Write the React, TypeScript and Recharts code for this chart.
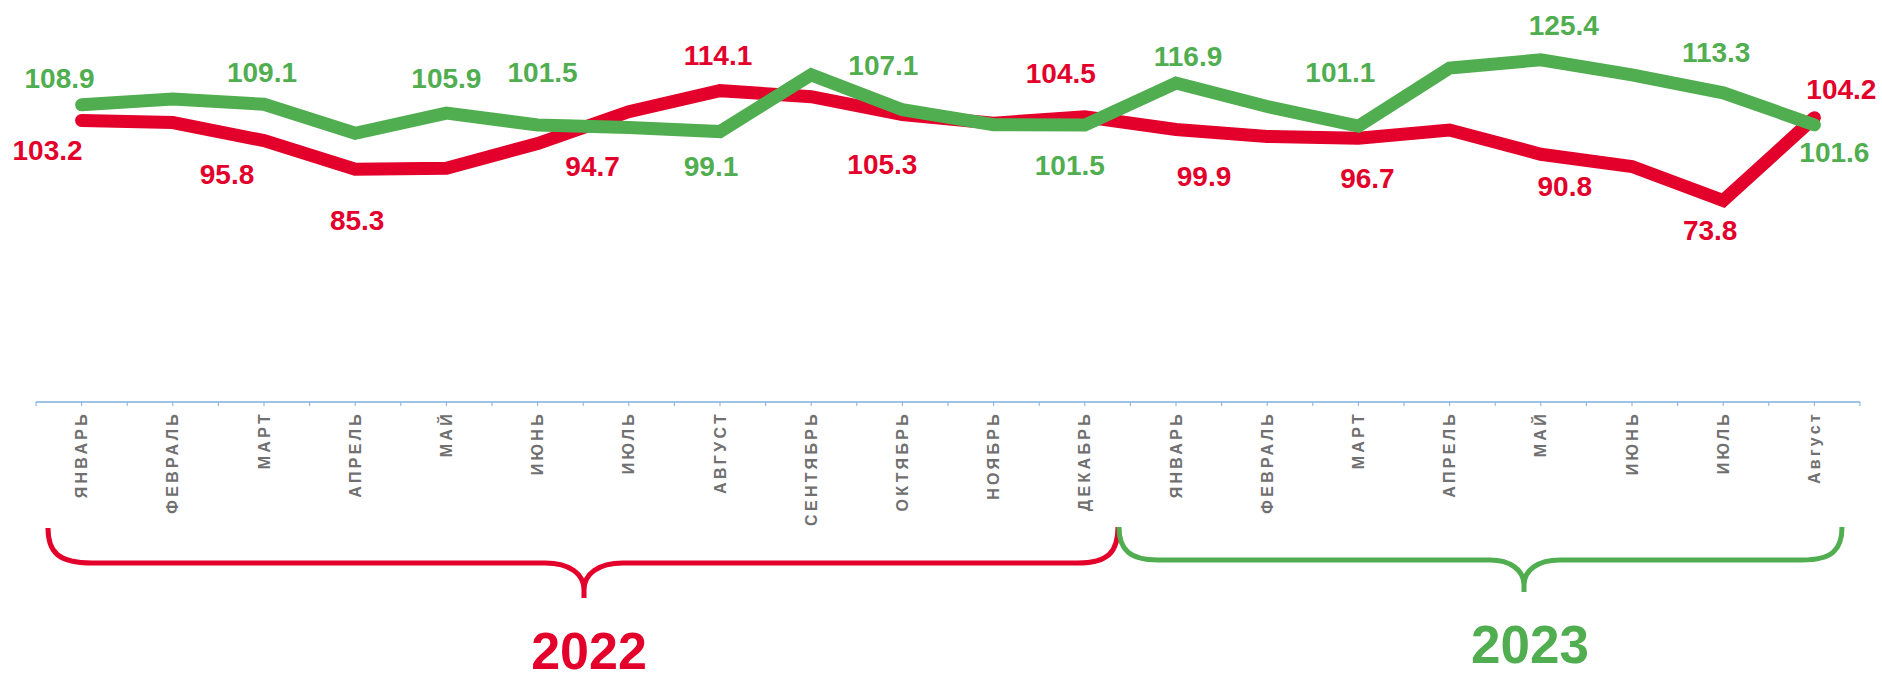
import React from 'react';
import { LineChart, Line, XAxis, YAxis } from 'recharts';

// ---- data ----
const months = [
  'ЯНВАРЬ', 'ФЕВРАЛЬ', 'МАРТ', 'АПРЕЛЬ', 'МАЙ', 'ИЮНЬ', 'ИЮЛЬ', 'АВГУСТ', 'СЕНТЯБРЬ', 'ОКТЯБРЬ', 'НОЯБРЬ', 'ДЕКАБРЬ',
  'ЯНВАРЬ', 'ФЕВРАЛЬ', 'МАРТ', 'АПРЕЛЬ', 'МАЙ', 'ИЮНЬ', 'ИЮЛЬ', 'Август',
];
const redValues = [103.2, 102.4, 95.8, 85.3, 85.7, 94.7, 106.4, 114.1, 111.9, 105.3, 102.2, 104.5, 99.9, 97.3, 96.7, 99.7, 90.8, 86.3, 73.8, 104.2];
const greenValues = [108.9, 111.0, 109.1, 98.5, 105.9, 101.5, 100.6, 99.1, 119.9, 107.1, 101.6, 101.5, 116.9, 108.3, 101.1, 122.4, 125.4, 119.9, 113.3, 101.6];
const years = ['2022', '2023'];

// label placement (offset from point: [dx, baseline dy]); null = no label
const redLabelPos: ([number, number] | null)[] = [
  [-34, 40], null, [-37, 43], [2, 61], null, [55, 32], null, [-2, -26], null, [-20, 59], null, [-24, -34],
  [28, 57], null, [9, 50], null, [24, 42], null, [-13, 39], [27, -19],
];
const greenLabelPos: ([number, number] | null)[] = [
  [-22, -17], null, [-2, -22], null, [0, -25], [5, -43], null, [-9, 44], null, [-19, -35], null, [-15, 50],
  [12, -17], null, [-18, -44], null, [23, -25], null, [-7, -31], [20, 37],
];

const data = months.map((m, i) => ({ month: m, red: redValues[i], green: greenValues[i] }));

// ---- style ----
const W = 1882;
const H = 680;
const M = { top: 20, right: 22, bottom: 0, left: 36 };
const AXIS_H = 278;
const HALF_BAND = (W - M.left - M.right) / months.length / 2;
const RED = '#E3002B';
const GREEN = '#50AE50';
const AXIS = '#7FAEDF';
const FONT = "Arial, 'Liberation Sans', sans-serif";

const MonthTick = (props: any) => {
  const { x, y, payload, index } = props;
  const ty = y + 9;
  return (
    <g>
      <line x1={x} y1={y} x2={x} y2={y + 4} stroke={AXIS} strokeWidth={1} />
      <line x1={x - HALF_BAND} y1={y} x2={x - HALF_BAND} y2={y + 4} stroke={AXIS} strokeWidth={1} />
      {index === months.length - 1 && (
        <line x1={x + HALF_BAND} y1={y} x2={x + HALF_BAND} y2={y + 4} stroke={AXIS} strokeWidth={1} />
      )}
      <text
        x={x}
        y={ty}
        transform={`rotate(-90 ${x} ${ty})`}
        textAnchor="end"
        dominantBaseline="central"
        fill="#707070"
        fontSize={16}
        fontWeight="bold"
        letterSpacing={3.3}
        fontFamily={FONT}
      >
        {payload.value}
      </text>
    </g>
  );
};

const makeLabelDot = (pos: ([number, number] | null)[], color: string, key: string) => (p: any) => {
  const { cx, cy, index, value } = p;
  const off = pos[index];
  if (!off || cx == null || cy == null) return <g key={`${key}-${index}`} />;
  const v = Array.isArray(value) ? value[1] : value;
  return (
    <text
      key={`${key}-${index}`}
      x={cx + off[0]}
      y={cy + off[1]}
      textAnchor="middle"
      fill={color}
      fontSize={28}
      fontWeight="bold"
      fontFamily={FONT}
    >
      {Number(v).toFixed(1)}
    </text>
  );
};

export default function App() {
  return (
    <div style={{ position: 'absolute', left: 0, top: 0, width: W, height: H, background: '#fff' }}>
      <LineChart width={W} height={H} data={data} margin={M}>
        <XAxis
          dataKey="month"
          interval={0}
          tickLine={false}
          tickSize={0}
          tickMargin={0}
          height={AXIS_H}
          padding={{ left: HALF_BAND, right: HALF_BAND }}
          axisLine={{ stroke: AXIS, strokeWidth: 1.5 }}
          tick={(p: any) => <MonthTick {...p} />}
        />
        <YAxis hide domain={[0, 140]} />
        <Line
          type="linear"
          dataKey="red"
          stroke={RED}
          strokeWidth={13}
          strokeLinecap="round"
          dot={makeLabelDot(redLabelPos, RED, 'r')}
          activeDot={false}
          isAnimationActive={false}
        />
        <Line
          type="linear"
          dataKey="green"
          stroke={GREEN}
          strokeWidth={13}
          strokeLinecap="round"
          dot={makeLabelDot(greenLabelPos, GREEN, 'g')}
          activeDot={false}
          isAnimationActive={false}
        />
      </LineChart>
      <svg
        width={W}
        height={H}
        style={{ position: 'absolute', left: 0, top: 0, pointerEvents: 'none' }}
      >
        <path
          d="M48,528 C48,552 58,563 92,563 L545,563 C570,563 584,574 584,590 L584,598 M584,590 C584,574 598,563 623,563 L1078,563 C1108,563 1118,552 1118,527"
          fill="none"
          stroke={RED}
          strokeWidth={5}
        />
        <path
          d="M1119,527 C1119,550 1130,560 1158,560 L1490,560 C1510,560 1524,570 1524,585 L1524,592 M1524,585 C1524,570 1538,560 1560,560 L1802,560 C1832,560 1842,550 1842,527"
          fill="none"
          stroke={GREEN}
          strokeWidth={5}
        />
        <text x={589} y={669} textAnchor="middle" fill={RED} fontSize={52} fontWeight="bold" fontFamily={FONT}>
          {years[0]}
        </text>
        <text x={1530} y={663} textAnchor="middle" fill={GREEN} fontSize={53} fontWeight="bold" fontFamily={FONT}>
          {years[1]}
        </text>
      </svg>
    </div>
  );
}
